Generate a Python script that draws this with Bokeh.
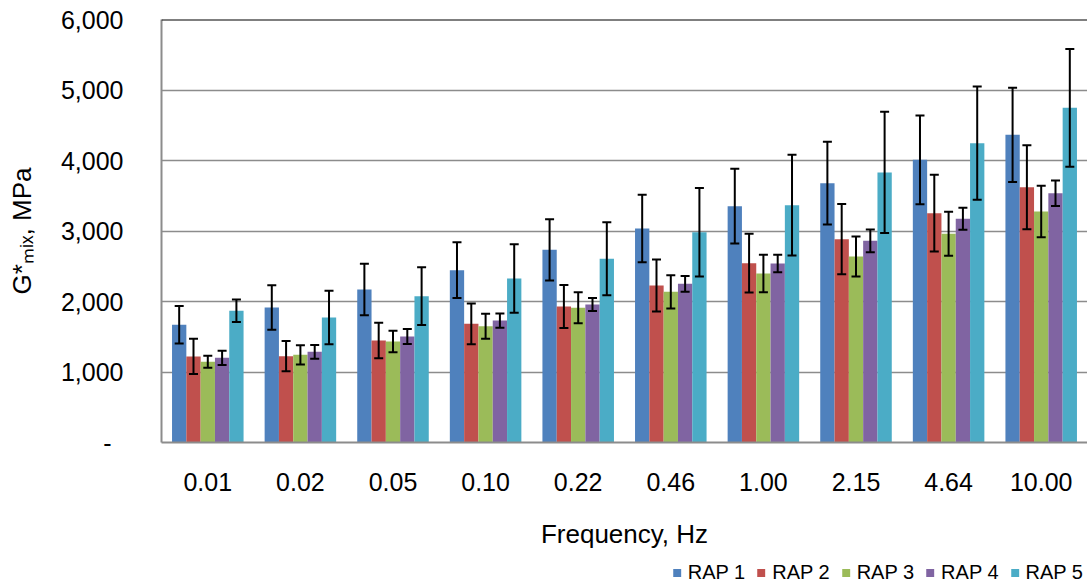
from bokeh.plotting import figure
from bokeh.layouts import column
from bokeh.models import (ColumnDataSource, FactorRange, Whisker, TeeHead, Legend,
                          LegendItem, Span, FixedTicker)
from bokeh.transform import dodge
from bokeh.embed import file_html
from bokeh.resources import INLINE

freqs = ["0.01", "0.02", "0.05", "0.10", "0.22", "0.46", "1.00", "2.15", "4.64", "10.00"]
series_names = ["RAP 1", "RAP 2", "RAP 3", "RAP 4", "RAP 5"]
colors = ["#4F81BD", "#C0504D", "#9BBB59", "#8064A2", "#4BACC6"]

rap1 = [1670, 1915, 2170, 2444, 2733, 3035, 3352, 3678, 4010, 4364]
rap1_err = [265, 317, 365, 395, 435, 478, 530, 587, 630, 669]
rap2 = [1220, 1225, 1447, 1683, 1929, 2227, 2544, 2884, 3253, 3622]
rap2_err = [250, 215, 252, 288, 305, 370, 418, 499, 545, 596]
rap3 = [1145, 1243, 1433, 1650, 1910, 2137, 2397, 2638, 2960, 3277]
rap3_err = [85, 137, 153, 177, 220, 237, 265, 284, 312, 366]
rap4 = [1201, 1286, 1504, 1730, 1957, 2251, 2539, 2860, 3173, 3536]
rap4_err = [100, 97, 107, 101, 93, 111, 123, 160, 156, 180]
rap5 = [1868, 1773, 2075, 2326, 2605, 2983, 3366, 3830, 4246, 4747]
rap5_err = [160, 380, 410, 487, 518, 628, 714, 860, 803, 835]

values = [rap1, rap2, rap3, rap4, rap5]
errors = [rap1_err, rap2_err, rap3_err, rap4_err, rap5_err]

y_ticks = [0, 1000, 2000, 3000, 4000, 5000, 6000]
y_tick_labels = ["-\u00a0\u2009", "1,000", "2,000", "3,000", "4,000", "5,000", "6,000"]

y_title = "G*\u2098\u1d62\u2093, MPa"
x_title = "Frequency, Hz"

FONT = "Liberation Sans"

p = figure(x_range=FactorRange(*freqs, range_padding=0), y_range=(0, 6000),
           frame_width=926, frame_height=423,
           output_backend="svg", toolbar_location=None,
           min_border_left=161, min_border_right=0, min_border_top=19,
           min_border_bottom=118)
p.outline_line_color = None
p.background_fill_color = "white"
p.border_fill_color = "white"

bw = 0.1545
offsets = [-2 * bw, -bw, 0, bw, 2 * bw]
for i in range(5):
    src = ColumnDataSource(dict(
        freq=freqs, val=values[i],
        up=[v + e for v, e in zip(values[i], errors[i])],
        lo=[v - e for v, e in zip(values[i], errors[i])],
    ))
    p.vbar(x=dodge("freq", offsets[i], range=p.x_range), top="val", width=bw,
           source=src, fill_color=colors[i], line_color=None)
    w = Whisker(source=src, base=dodge("freq", offsets[i], range=p.x_range),
                upper="up", lower="lo", line_color="black", line_width=2, level="overlay",
                upper_head=TeeHead(size=9, line_width=2, line_color="black"),
                lower_head=TeeHead(size=9, line_width=2, line_color="black"))
    p.add_layout(w)

# grid
p.xgrid.grid_line_color = None
p.ygrid.grid_line_color = "#8c8c8c"
p.ygrid.grid_line_width = 1.5
p.ygrid.ticker = FixedTicker(ticks=y_ticks)

# axes
p.yaxis.ticker = FixedTicker(ticks=y_ticks)
p.yaxis.major_label_overrides = {t: l for t, l in zip(y_ticks, y_tick_labels)}
for ax in (p.xaxis[0], p.yaxis[0]):
    ax.axis_line_color = "#8c8c8c"
    ax.axis_line_width = 2
    ax.major_tick_line_color = None
    ax.minor_tick_line_color = None
    ax.major_tick_out = 0
    ax.major_tick_in = 0
    ax.major_label_text_font = FONT
    ax.major_label_text_font_size = "25px"
    ax.major_label_text_color = "black"
    ax.axis_label_text_font = FONT
    ax.axis_label_text_font_size = "26px"
    ax.axis_label_text_font_style = "normal"
    ax.axis_label_text_color = "black"
p.yaxis.major_label_standoff = 38
p.yaxis.axis_label = y_title
p.yaxis.axis_label_standoff = 21
p.xaxis.major_label_standoff = 30
p.xaxis.axis_label = x_title
p.xaxis.axis_label_standoff = 25

# top border
p.add_layout(Span(location=6000, dimension="width", line_color="black", line_width=2))

# legend strip below the chart (its own small figure, legend inside its frame);
# proxy bars sit outside the strip's visible range and only supply legend swatches
lg = figure(width=1087, height=24, x_range=(0, 1), y_range=(0, 1),
            output_backend="svg", toolbar_location=None, min_border=0,
            x_axis_location=None, y_axis_location=None)
lg.outline_line_color = None
lg.xgrid.visible = False
lg.ygrid.visible = False
lg_renderers = [lg.vbar(x=[5], top=[0.5], width=0.1, fill_color=c, line_color=None)
                for c in colors]
legend = Legend(items=[LegendItem(label=n, renderers=[r]) for n, r in zip(series_names, lg_renderers)],
                orientation="horizontal", location="right",
                glyph_width=10, glyph_height=10, label_standoff=6, spacing=11,
                padding=0, margin=4, label_text_font=FONT, label_text_font_size="20px",
                label_text_color="black", label_height=20,
                background_fill_alpha=0, border_line_color=None)
lg.add_layout(legend)

layout = column(p, lg, spacing=0)
open("out.html", "w").write(file_html(layout, INLINE))
